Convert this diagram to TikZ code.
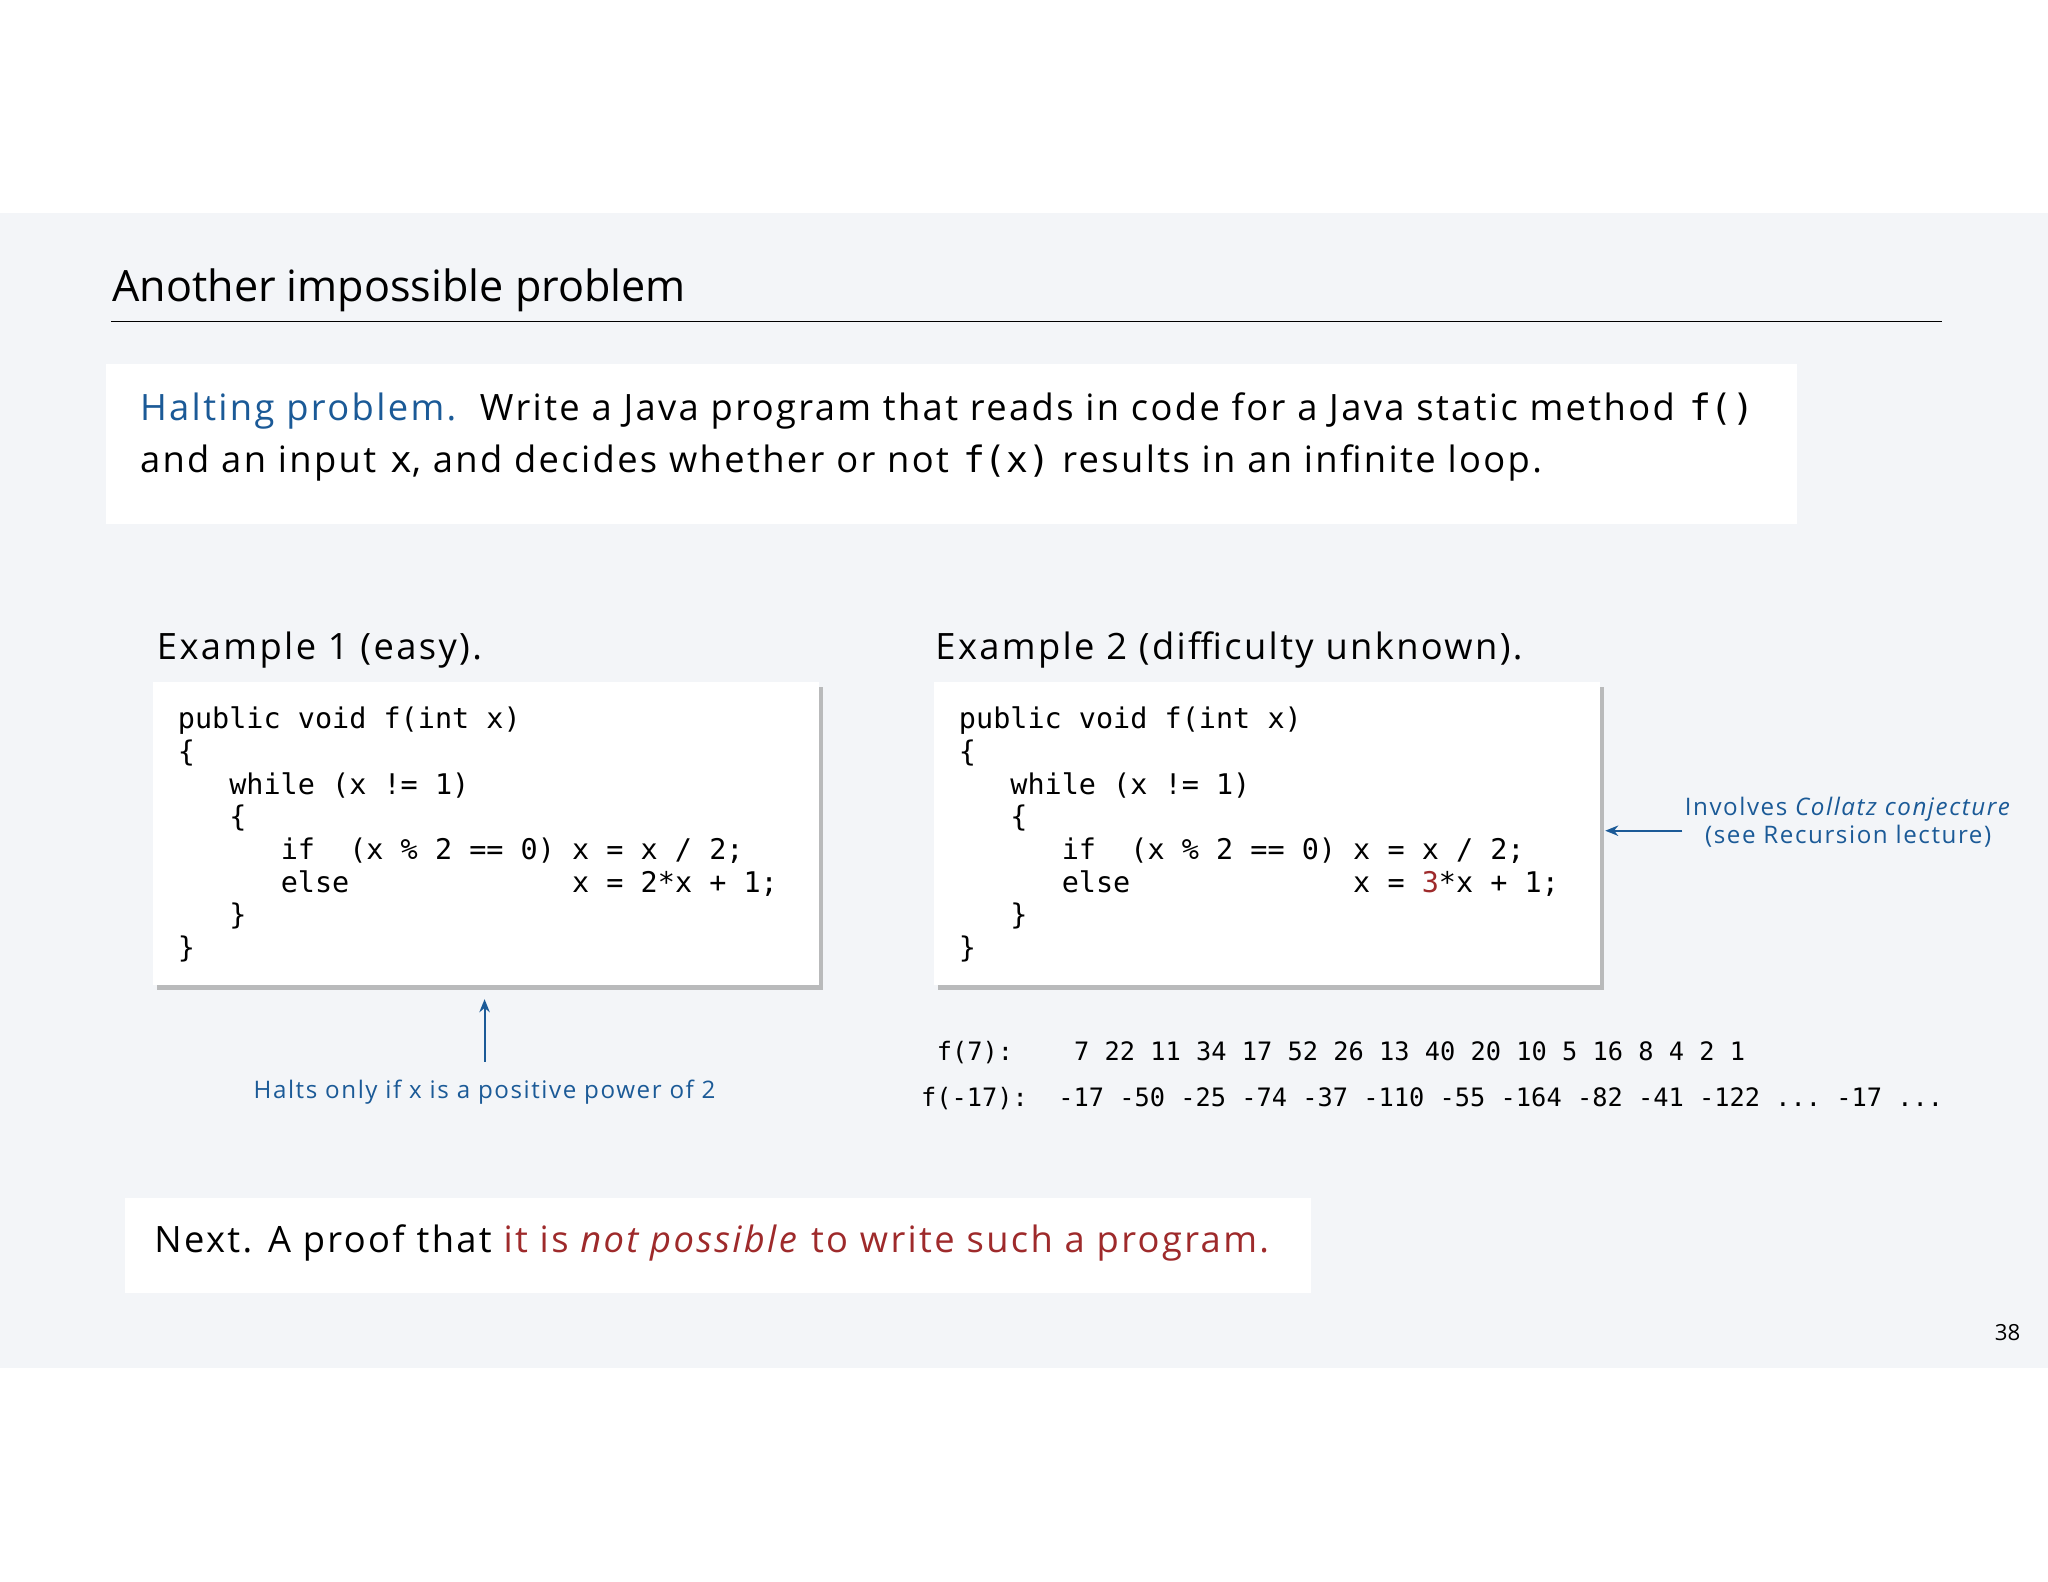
\documentclass[tikz,border=0pt]{standalone}
\usepackage{fontspec}
\setmainfont{Open Sans}
\newfontfamily\wide[LetterSpace=6.5]{Open Sans}
\setmonofont{DejaVu Sans Mono}
\usetikzlibrary{shadows,arrows.meta}
\definecolor{bg}{HTML}{F3F5F8}
\definecolor{blu}{HTML}{1B5A97}
\definecolor{rd}{HTML}{9E2A2B}
\begin{document}
\begin{tikzpicture}[x=1pt,y=-1pt,
  txt/.style={anchor=base west,inner sep=0pt,font=\wide\fontsize{27.8}{34}\selectfont},
  code/.style={anchor=base west,inner sep=0pt,font=\fontsize{21.8}{25}\ttfamily},
  seq/.style={anchor=base west,inner sep=0pt,font=\fontsize{19.4}{22}\ttfamily},
  note/.style={inner sep=0pt,text=blu,font=\wide\fontsize{18.5}{22}\selectfont,anchor=base},
  cbox/.style={fill=white,draw=none,drop shadow={shadow xshift=3pt,shadow yshift=-4pt,opacity=.5}},
  arr/.style={blu,line width=1.5pt,-{Stealth[length=10pt,width=8pt]}}]
\useasboundingbox (0,0) rectangle (1568,1211);
\fill[white] (0,0) rectangle (1568,1211);
\fill[bg] (0,163) rectangle (1568,1047);
\node[anchor=base west,inner sep=0pt,font=\fontsize{33}{40}\selectfont] (title) at (86,231) {Another impossible problem};
\draw[line width=0.8pt] (85,246) -- (1487,246);
\fill[white] (81,279) rectangle (1376,401);
\node[txt] (h1) at (107,322) {\textcolor{blu}{Halting problem.}\ \ Write a Java program that reads in code for a Java static method \texttt{f()}};
\node[txt] (h2) at (107,362) {and an input \texttt{x}, and decides whether or not \texttt{f(x)} results in an infinite loop.};
\node[txt] (e1) at (120,505) {Example 1 (easy).};
\node[txt] (e2) at (716,505) {Example 2 (difficulty unknown).};
\node[cbox,minimum width=510pt,minimum height=232pt,anchor=north west,inner sep=0pt] (b1) at (117,522) {};
\node[cbox,minimum width=510pt,minimum height=232pt,anchor=north west,inner sep=0pt] (b2) at (715,522) {};
\foreach \X/\Y in {136/a,734/b}{
\node[code] (\Y1) at (\X,558) {public~void~f(int~x)};
\node[code] (\Y2) at (\X,583) {\{};
\node[code] (\Y3) at (\X,608) {~~~while~(x~!=~1)};
\node[code] (\Y4) at (\X,633) {~~~\{};
\node[code] (\Y5) at (\X,658) {~~~~~~if~~(x~\%~2~==~0)~x~=~x~/~2;};
\node[code] (\Y7) at (\X,708) {~~~\}};
\node[code] (\Y8) at (\X,733) {\}};
}
\node[code] (a6) at (136,683) {~~~~~~else~~~~~~~~~~~~~x~=~2*x~+~1;};
\node[code] (b6) at (734,683) {~~~~~~else~~~~~~~~~~~~~x~=~\textcolor{rd}{3}*x~+~1;};
\coordinate (h0) at (371,813);
\draw[arr] (h0) -- (371,765);
\node[note] (halts) at (371,841) {Halts only if x is a positive power of 2};
\node[note] (inv) at (1415,624) {Involves \textit{Collatz conjecture}};
\node[note] (see) at (1415,646) {(see Recursion lecture)};
\coordinate (c0) at (1288,636);
\draw[arr] (c0) -- (1229,636);
\node[seq] (s1) at (717,812) {f(7):~~~~7~22~11~34~17~52~26~13~40~20~10~5~16~8~4~2~1};
\node[seq] (s2) at (705,847) {f(-17):~~-17~-50~-25~-74~-37~-110~-55~-164~-82~-41~-122~...~-17~...};
\fill[white] (96,917) rectangle (1004,990);
\node[txt] (next) at (118,959) {Next. A proof that \textcolor{rd}{it is \textit{not possible} to write such a program.}};
\node[anchor=base east,inner sep=0pt,font=\fontsize{17}{20}\selectfont] (pg) at (1547,1026) {38};
\end{tikzpicture}
\end{document}
